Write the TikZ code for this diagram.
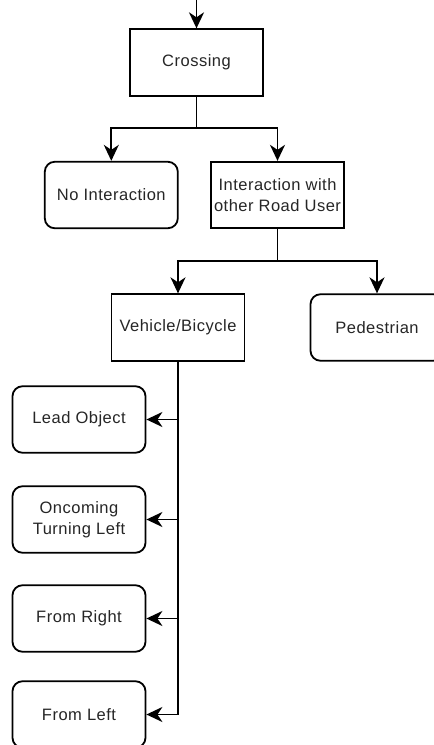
\documentclass[tikz,border=0pt]{standalone}
\usepackage{fontspec}
\setmainfont{Liberation Sans}[LetterSpace=3]
\usetikzlibrary{arrows.meta}
\begin{document}
\begin{tikzpicture}[x=1pt,y=-1pt,
  box/.style={draw=black,line width=1.8pt,fill=white,minimum width=133pt,minimum height=66.5pt,
    inner sep=2pt,align=center,font=\fontsize{16.5}{21}\selectfont,text=black!85},
  rbox/.style={box,rounded corners=10pt},
  conn/.style={line width=1.8pt,draw=black},
  arr/.style={conn,-{Stealth[length=16pt,width=15pt,inset=5pt]}}]
\useasboundingbox (0,0) rectangle (434,745);
\node[box] (cross) at (196.5,62.5) {Crossing};
\node[rbox] (noint) at (111.3,195) {No Interaction};
\node[box] (inter) at (277.5,195) {Interaction with\\other Road User};
\node[box] (veh) at (178,327.5) {Vehicle/Bicycle};
\node[rbox] (ped) at (377,327.5) {Pedestrian};
\node[rbox] (lead) at (79,419.5) {Lead Object};
\node[rbox] (onc) at (79,519.5) {Oncoming\\Turning Left};
\node[rbox] (fright) at (79,618.5) {From Right};
\node[rbox] (fleft) at (79,714.5) {From Left};
\coordinate (top) at (196.5,-5);
\coordinate (b1) at (196.5,128);
\coordinate (b2) at (277.5,260.7);
\draw[arr] (top) -- (cross.north);
\draw[conn] (cross.south) -- (b1);
\draw[arr] (b1) -| (noint.north);
\draw[arr] (b1) -| (inter.north);
\draw[conn] (inter.south) -- (b2);
\draw[arr] (b2) -| (veh.north);
\draw[arr] (b2) -| (ped.north);
\draw[arr] (veh.south) |- (fleft.east);
\draw[arr] (veh.south |- lead.east) -- (lead.east);
\draw[arr] (veh.south |- onc.east) -- (onc.east);
\draw[arr] (veh.south |- fright.east) -- (fright.east);
\end{tikzpicture}
\end{document}
